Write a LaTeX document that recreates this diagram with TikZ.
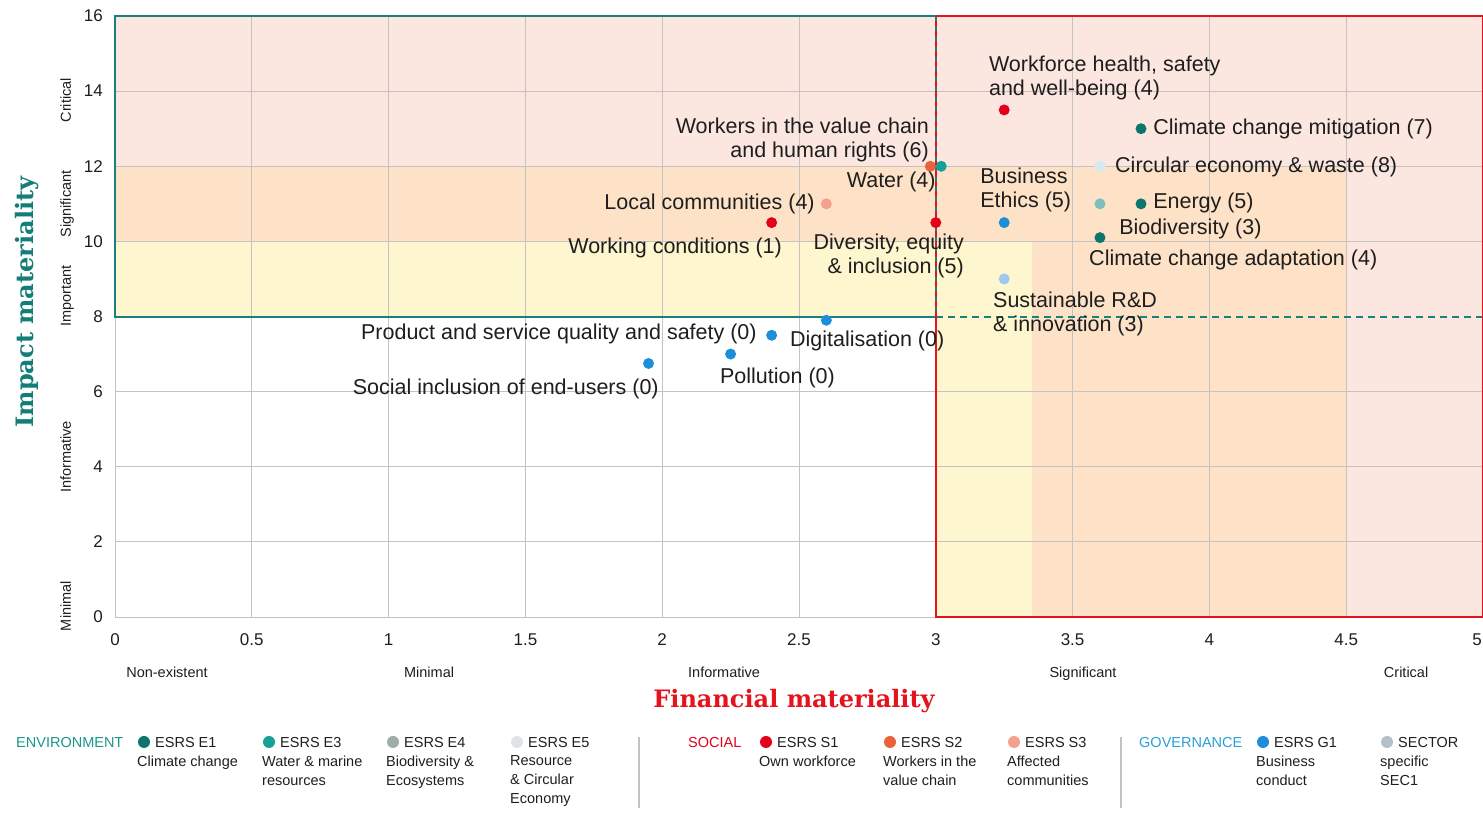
\documentclass[tikz,border=0pt]{standalone}
\usepackage{fontspec}
\setmainfont{Liberation Sans}
\newfontfamily\slabfont{DejaVu Serif}
\usetikzlibrary{positioning}

\definecolor{tealframe}{RGB}{24,128,126}
\definecolor{redframe}{RGB}{228,20,30}
\definecolor{gridgrey}{RGB}{198,194,190}
\definecolor{bandpink}{RGB}{252,231,224}
\definecolor{bandorange}{RGB}{253,226,199}
\definecolor{bandyellow}{RGB}{253,246,206}
\definecolor{esrsEone}{RGB}{12,118,110}
\definecolor{esrsEthree}{RGB}{22,160,150}
\definecolor{esrsEfour}{RGB}{158,172,170}
\definecolor{esrsEfive}{RGB}{222,228,230}
\definecolor{esrsSone}{RGB}{226,0,26}
\definecolor{esrsStwo}{RGB}{234,98,58}
\definecolor{esrsSthree}{RGB}{244,160,140}
\definecolor{esrsGone}{RGB}{28,142,218}
\definecolor{sectorgrey}{RGB}{180,192,200}
\definecolor{circlight}{RGB}{212,234,238}
\definecolor{biolight}{RGB}{125,190,188}
\definecolor{rndlight}{RGB}{160,200,238}
\definecolor{envteal}{RGB}{26,150,140}
\definecolor{govblue}{RGB}{40,160,215}
\definecolor{impactteal}{RGB}{20,125,120}
\definecolor{inktext}{RGB}{30,30,30}

\tikzset{
  dot/.style={circle,inner sep=0pt,minimum size=11pt},
  lbl/.style={font=\fontsize{21.5}{24}\selectfont,text=inktext,inner sep=0pt},
  ticklbl/.style={font=\fontsize{17}{20}\selectfont,text=inktext,inner sep=0pt},
  catlbl/.style={font=\fontsize{14.5}{17}\selectfont,text=inktext,inner sep=0pt,text height=10.5pt,text depth=3pt},
  legtxt/.style={font=\fontsize{14.5}{19}\selectfont,text=inktext,inner sep=0pt,align=left},
  legdot/.style={circle,inner sep=0pt,minimum size=12pt},
  gridline/.style={draw=gridgrey,line width=0.9pt},
  tealbox/.style={draw=tealframe,line width=2pt},
  redbox/.style={draw=redframe,line width=2pt},
  axistitle/.style={font=\slabfont\bfseries\fontsize{24}{26}\selectfont},
}

\begin{document}
\begin{tikzpicture}[x=1pt,y=1pt]
\useasboundingbox (0,0) rectangle (1483,818);

% materiality grid, in data units
\begin{scope}[shift={(115pt,201pt)},x=273.6pt,y=37.56pt]
  \fill[bandpink] (0,12) rectangle (5,16);
  \fill[bandorange] (0,10) rectangle (3.35,12);
  \fill[bandyellow] (0,8) rectangle (3,10);
  \fill[bandyellow] (3,0) rectangle (3.35,10);
  \fill[bandorange] (3.35,0) rectangle (4.5,12);
  \fill[bandpink] (4.5,0) rectangle (5,12);

  \foreach \gx in {0.5,1,1.5,2,2.5,3.5,4,4.5}
    \draw[gridline] (\gx,0) -- (\gx,16);
  \foreach \gy in {2,4,6,10,12,14}
    \draw[gridline] (0,\gy) -- (5,\gy);
  \draw[gridline] (0,8) -- (0,0) -- (3,0);

  \draw[tealbox] (0,8) rectangle (3,16);
  \draw[tealbox,dash pattern=on 7pt off 5pt] (3,8) -- (5,8);
  \draw[redbox] (3,8) -- (3,0) -- (5,0) -- (5,16) -- (3,16);
  \draw[redbox,dash pattern=on 6pt off 4pt] (3,8) -- (3,16);

  \foreach \ty in {0,2,...,16}
    \node[ticklbl,anchor=east,xshift=-12pt] (yt\ty) at (0,\ty) {\ty};
  \foreach \tx [count=\i] in {0,0.5,1,1.5,2,2.5,3,3.5,4,4.5}
    \node[ticklbl,yshift=-23pt] (xt\i) at (\tx,0) {\tx};
  \node[ticklbl,anchor=east,yshift=-23pt,xshift=-1pt] (xt11) at (5,0) {5};

  \node[catlbl,rotate=90] (ycrit) at (-0.175,13.76) {Critical};
  \node[catlbl,rotate=90] (ysig) at (-0.175,11.0) {Significant};
  \node[catlbl,rotate=90] (yimp) at (-0.175,8.55) {Important};
  \node[catlbl,rotate=90] (yinf) at (-0.175,4.26) {Informative};
  \node[catlbl,rotate=90] (ymin) at (-0.175,0.29) {Minimal};

  \node[catlbl] (xnon) at (0.19,-1.52) {Non-existent};
  \node[catlbl] (xmin) at (1.148,-1.52) {Minimal};
  \node[catlbl] (xinf) at (2.226,-1.52) {Informative};
  \node[catlbl] (xsig) at (3.538,-1.52) {Significant};
  \node[catlbl] (xcrit) at (4.719,-1.52) {Critical};

  % topics
  \node[dot,fill=esrsEone] (ccm) at (3.75,13) {};
  \node[dot,fill=circlight] (circ) at (3.6,12) {};
  \node[dot,fill=esrsEone] (energy) at (3.75,11) {};
  \node[dot,fill=biolight] (biodiv) at (3.6,11) {};
  \node[dot,fill=esrsEone] (cca) at (3.6,10.1) {};
  \node[dot,fill=esrsSone] (whs) at (3.25,13.5) {};
  \node[dot,fill=esrsStwo] (wvc) at (2.98,12) {};
  \node[dot,fill=esrsEthree] (water) at (3.02,12) {};
  \node[dot,fill=esrsSthree] (localc) at (2.6,11) {};
  \node[dot,fill=esrsSone] (workc) at (2.4,10.5) {};
  \node[dot,fill=esrsSone] (dei) at (3.0,10.5) {};
  \node[dot,fill=esrsGone] (bizeth) at (3.25,10.5) {};
  \node[dot,fill=rndlight] (srd) at (3.25,9) {};
  \node[dot,fill=esrsGone] (digi) at (2.6,7.9) {};
  \node[dot,fill=esrsGone] (pqs) at (2.4,7.5) {};
  \node[dot,fill=esrsGone] (poll) at (2.25,7) {};
  \node[dot,fill=esrsGone] (sie) at (1.95,6.75) {};

  \node[lbl,anchor=west,align=left] (whslbl) at (3.194,14.35) {Workforce health, safety\\and well-being (4)};
  \node[lbl,anchor=west] (ccmlbl) at (3.794,13.0) {Climate change mitigation (7)};
  \node[lbl,anchor=west] (circlbl) at (3.655,11.98) {Circular economy \& waste (8)};
  \node[lbl,anchor=west] (energylbl) at (3.794,11.02) {Energy (5)};
  \node[lbl,anchor=west] (biodivlbl) at (3.67,10.33) {Biodiversity (3)};
  \node[lbl,anchor=west] (ccalbl) at (3.56,9.5) {Climate change adaptation (4)};
  \node[lbl,anchor=west,align=left] (bizethlbl) at (3.162,11.37) {Business\\Ethics (5)};
  \node[lbl,anchor=west,align=left] (srdlbl) at (3.209,8.07) {Sustainable R\&D\\\& innovation (3)};
  \node[lbl,anchor=east,align=right] (wvclbl) at (2.975,12.70) {Workers in the value chain\\and human rights (6)};
  \node[lbl,anchor=east] (waterlbl) at (3.0,11.58) {Water (4)};
  \node[lbl,anchor=east] (localclbl) at (2.558,11.0) {Local communities (4)};
  \node[lbl,anchor=east] (workclbl) at (2.438,9.82) {Working conditions (1)};
  \node[lbl,anchor=east,align=right] (deilbl) at (3.103,9.61) {Diversity, equity\\\& inclusion (5)};
  \node[lbl,anchor=east] (pqslbl) at (2.346,7.53) {Product and service quality and safety (0)};
  \node[lbl,anchor=west] (digilbl) at (2.467,7.35) {Digitalisation (0)};
  \node[lbl,anchor=west] (polllbl) at (2.211,6.36) {Pollution (0)};
  \node[lbl,anchor=east] (sielbl) at (1.988,6.07) {Social inclusion of end-users (0)};
\end{scope}

% axis titles
\node[axistitle,text=impactteal,rotate=90] (ytitle) at (27,516) {Impact materiality};
\node[axistitle,text=redframe] (xtitle) at (794,117) {Financial materiality};

% legend
\node[legtxt,anchor=base west,text=envteal] (envhead) at (16,70.6) {ENVIRONMENT};
\node[legtxt,anchor=base west,text=esrsSone] (sochead) at (688,70.6) {SOCIAL};
\node[legtxt,anchor=base west,text=govblue] (govhead) at (1139,70.6) {GOVERNANCE};
\draw[gridgrey,line width=1.2pt] (639,81) -- (639,10);
\draw[gridgrey,line width=1.2pt] (1121,81) -- (1121,10);

\foreach \lx/\lc/\lhead/\ldesc [count=\k] in {
  137/esrsEone/ESRS E1/Climate change,
  262/esrsEthree/ESRS E3/Water \& marine\\resources,
  386/esrsEfour/ESRS E4/Biodiversity \&\\Ecosystems,
  510/esrsEfive/ESRS E5/Resource\\\& Circular\\Economy,
  759/esrsSone/ESRS S1/Own workforce,
  883/esrsStwo/ESRS S2/Workers in the\\value chain,
  1007/esrsSthree/ESRS S3/Affected\\communities,
  1256/esrsGone/ESRS G1/Business\\conduct,
  1380/sectorgrey/SECTOR/specific\\SEC1}
{
  \node[legdot,fill=\lc] (ldot\k) at (\lx+7,76) {};
  \node[legtxt,anchor=base west] (lhead\k) at (\lx+18,70.6) {\lhead};
  \node[legtxt,anchor=north west] (ldesc\k) at (\lx,62.6) {\ldesc};
}
\end{tikzpicture}
\end{document}
